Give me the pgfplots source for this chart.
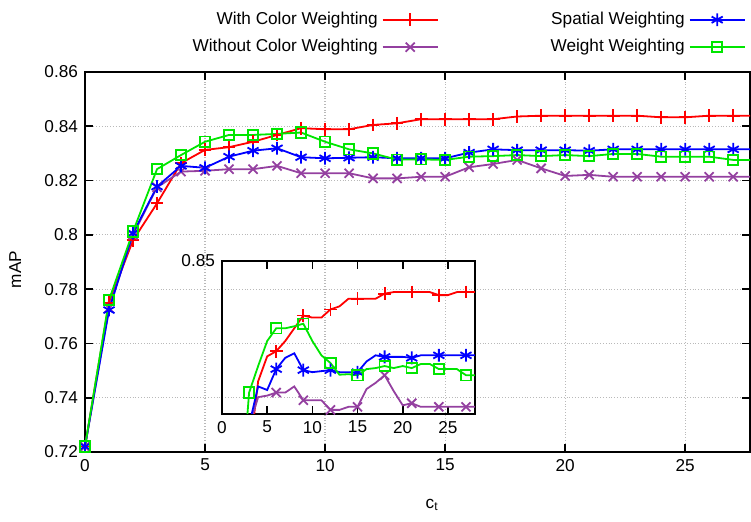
\documentclass[border=0pt]{standalone}
\usepackage{fontspec}
\setmainfont{Liberation Sans}
\setsansfont{Liberation Sans}
\usepackage{pgfplots}
\usepackage{pgfplotstable}
\pgfplotsset{compat=1.18}

\definecolor{cRed}{RGB}{255,0,0}
\definecolor{cPurple}{RGB}{148,64,160}
\definecolor{cBlue}{RGB}{0,0,255}
\definecolor{cGreen}{RGB}{0,230,0}

% c_t  with-color  without-color  spatial  weight
\pgfplotstableread{
x  red     purple  blue    green
0  0.722   0.722   0.722   0.722
1  0.775   0.773   0.7723  0.776
2  0.798   0.800   0.8006  0.8012
3  0.8116  0.8175  0.8178  0.8242
4  0.8264  0.8233  0.8254  0.8294
5  0.8313  0.8236  0.8247  0.8343
6  0.8323  0.8242  0.8288  0.8368
7  0.8343  0.8242  0.8310  0.8368
8  0.8368  0.8254  0.8319  0.8372
9  0.8393  0.8227  0.8286  0.8377
10 0.8389  0.8227  0.8282  0.8343
11 0.8389  0.8227  0.8284  0.8315
12 0.8405  0.8208  0.8286  0.8300
13 0.8411  0.8208  0.8282  0.8277
14 0.8426  0.8214  0.8282  0.8278
15 0.8426  0.8214  0.8282  0.8276
16 0.8426  0.8249  0.8303  0.8288
17 0.8426  0.8261  0.8315  0.8290
18 0.8436  0.8276  0.8312  0.8294
19 0.8439  0.8245  0.8312  0.8290
20 0.8439  0.8217  0.8312  0.8294
21 0.8439  0.8221  0.8310  0.8290
22 0.8439  0.8214  0.8315  0.8298
23 0.8439  0.8214  0.8315  0.8298
24 0.8433  0.8214  0.8315  0.8288
25 0.8433  0.8214  0.8315  0.8288
26 0.8439  0.8214  0.8315  0.8288
27 0.8439  0.8214  0.8315  0.8276
28 0.8439  0.8214  0.8315  0.8276
}\mapdata

\pgfplotsset{
  gp/.style={
    scale only axis,
    axis line style={black, line width=0.8pt},
    tick align=inside,
    tick pos=both,
    major tick length=4pt,
    every tick/.style={black, line width=0.8pt},
    ticklabel style={font=\fontsize{8.6}{10}\selectfont},
    /pgf/number format/assume math mode=true,
    yticklabel style={/pgf/number format/fixed, /pgf/number format/precision=2},
  },
  sred/.style={color=cRed, line width=0.9pt, mark=+, mark size=3.2pt, mark options={solid}},
  spurple/.style={color=cPurple, line width=0.9pt, mark=x, mark size=3.2pt, mark options={solid}},
  sblue/.style={color=cBlue, line width=0.9pt, mark=asterisk, mark size=3.2pt, mark options={solid}},
  sgreen/.style={color=cGreen, line width=0.9pt, mark=square, mark size=2.6pt, mark options={solid}},
}

\begin{document}
\begin{tikzpicture}
\path[use as bounding box] (-42.5pt,-35pt) rectangle (333pt,226pt);

\begin{axis}[gp,
  width=332.5pt, height=190pt,
  xmin=0, xmax=27.7,
  ymin=0.72, ymax=0.86,
  xtick={0,5,10,15,20,25},
  ytick={0.72,0.74,0.76,0.78,0.8,0.82,0.84,0.86},
  grid=major,
  major grid style={densely dotted, gray!55, line width=0.6pt},
  xlabel={c\textsubscript{t}},
  ylabel={mAP},
  xlabel style={at={(axis description cs:0.522,-0.139)}, anchor=center, font=\fontsize{8.6}{10}\selectfont},
  ylabel style={at={(axis description cs:-0.105,0.48)}, anchor=center, font=\fontsize{8.6}{10}\selectfont},
  legend columns=2,
  transpose legend,
  legend plot pos=right,
  legend cell align=right,
  legend image code/.code={\draw[mark repeat=2,mark phase=2,#1] plot coordinates {(0pt,0pt) (13.75pt,0pt) (27.5pt,0pt)};},
  legend style={at={(rel axis cs:1.003,1.18)}, anchor=north east, draw=none, fill=none,
    font=\fontsize{8.6}{10}\selectfont, row sep=2pt,
    /tikz/every even column/.append style={column sep=54pt}},
]
\addplot[sred] table[x=x, y=red] {\mapdata};
\addlegendentry{With Color Weighting}
\addplot[spurple] table[x=x, y=purple] {\mapdata};
\addlegendentry{Without Color Weighting}
\addplot[sblue] table[x=x, y=blue] {\mapdata};
\addlegendentry{Spatial Weighting}
\addplot[sgreen] table[x=x, y=green] {\mapdata};
\addlegendentry{Weight Weighting}
\end{axis}

\begin{axis}[gp,
  at={(68.5pt,19pt)}, anchor=south west,
  width=126.5pt, height=76.5pt,
  xmin=0, xmax=28,
  ymin=0.82, ymax=0.85,
  xtick={0,5,10,15,20,25},
  ytick={0.85},
]
% lines through every point, marks on every third point
\addplot[sred, no markers] table[x=x, y=red] {\mapdata};
\addplot[sred, only marks, each nth point=3] table[x=x, y=red] {\mapdata};
\addplot[spurple, no markers] table[x=x, y=purple] {\mapdata};
\addplot[spurple, only marks, each nth point=3] table[x=x, y=purple] {\mapdata};
\addplot[sblue, no markers] table[x=x, y=blue] {\mapdata};
\addplot[sblue, only marks, each nth point=3] table[x=x, y=blue] {\mapdata};
\addplot[sgreen, no markers] table[x=x, y=green] {\mapdata};
\addplot[sgreen, only marks, each nth point=3] table[x=x, y=green] {\mapdata};
\end{axis}
\end{tikzpicture}
\end{document}
